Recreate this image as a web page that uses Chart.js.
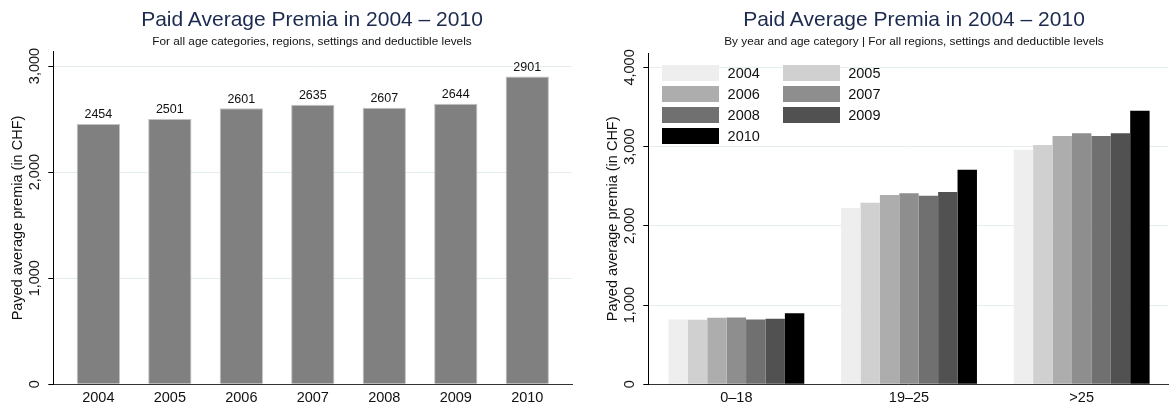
<!DOCTYPE html>
<html>
<head>
<meta charset="utf-8">
<script src="https://cdn.jsdelivr.net/npm/chart.js@4.4.1/dist/chart.umd.min.js"></script>
<style>
  body { margin: 0; background: #fff; font-family: 'Liberation Sans', Arial, sans-serif; }
  #wrap { position: relative; width: 1169px; height: 408px; overflow: hidden; }
  canvas { position: absolute; top: 0; }
  .titulo { position: absolute; text-align: center; color: #1b2a4e; font-size: 21px; line-height: 21px; white-space: nowrap; }
  .sub { position: absolute; text-align: center; color: #111; font-size: 11.8px; line-height: 12px; white-space: nowrap; }
  #legenda { position: absolute; left: 662px; top: 65px; display: grid; grid-template-columns: 120.6px 120px; row-gap: 5px; }
  .item { display: flex; align-items: center; height: 16px; }
  .caixa { width: 57px; height: 16px; margin-right: 8.6px; }
  .item span { font-size: 14.5px; color: #111; }
</style>
</head>
<body>
<div id="wrap">
  <canvas id="grafico-total" width="584" height="408" style="left:0"></canvas>
  <canvas id="grafico-idade" width="574" height="408" style="left:595px"></canvas>
  <div class="titulo" style="left:52px; width:520px; top:8px;">Paid Average Premia in 2004 – 2010</div>
  <div class="sub" style="left:52px; width:520px; top:35px;">For all age categories, regions, settings and deductible levels</div>
  <div class="titulo" style="left:654px; width:520px; top:8px;">Paid Average Premia in 2004 – 2010</div>
  <div class="sub" style="left:654px; width:520px; top:35px;">By year and age category | For all regions, settings and deductible levels</div>
  <div id="legenda"></div>
</div>
<script>
// Configurações globais
Chart.defaults.font.family = "'Liberation Sans', Arial, sans-serif";
Chart.defaults.color = '#111';

// Dados
const anos = ['2004', '2005', '2006', '2007', '2008', '2009', '2010'];
const premiaTotal = [2454, 2501, 2601, 2635, 2607, 2644, 2901];

const faixasEtarias = ['0–18', '19–25', '>25'];
const premia2004 = [818, 2224, 2962];
const premia2005 = [814, 2292, 3021];
const premia2006 = [839, 2390, 3135];
const premia2007 = [843, 2411, 3169];
const premia2008 = [818, 2381, 3135];
const premia2009 = [826, 2427, 3169];
const premia2010 = [898, 2708, 3453];
const premiaPorAno = [premia2004, premia2005, premia2006, premia2007, premia2008, premia2009, premia2010];

const ticksTotal = [0, 1000, 2000, 3000];
const ticksIdade = [0, 1000, 2000, 3000, 4000];

const tonsCinza = ['#eeeeee', '#d0d0d0', '#adadad', '#8e8e8e', '#707070', '#515151', '#000000'];

// Escalas comuns aos dois gráficos
function escalas(rotulos, xMin, xMax, yMax, yTicks) {
    return {
        x: {
            type: 'linear',
            min: xMin,
            max: xMax,
            offset: false,
            grid: { display: false, offset: false },
            border: { display: true, color: '#333', width: 1 },
            afterBuildTicks: s => { s.ticks = rotulos.map((_, i) => ({ value: i })); },
            afterFit: s => { s.height = 23.7; },
            ticks: {
                color: '#111', font: { size: 14.5 }, padding: -3,
                maxRotation: 0, autoSkip: false,
                callback: v => rotulos[v]
            }
        },
        y: {
            min: 0,
            max: yMax,
            afterBuildTicks: s => { s.ticks = yTicks.map(v => ({ value: v })); },
            afterFit: s => { s.width = 53.3; },
            grid: {
                color: c => (c.tick && c.tick.value === 0) ? 'rgba(0,0,0,0)' : '#e4edef',
                tickColor: '#000', tickLength: 5
            },
            border: { display: true, color: '#000', width: 1 },
            title: {
                display: true, text: 'Payed average premia (in CHF)', color: '#111',
                font: { size: 14.5 }, padding: { top: 9.3, bottom: 0 }
            },
            ticks: {
                color: '#111', font: { size: 14.5 },
                minRotation: 90, maxRotation: 90, crossAlign: 'center', padding: -5,
                callback: v => v.toLocaleString('en-US')
            }
        }
    };
}

// Rótulos com os valores acima das barras
const rotulosValores = {
    id: 'rotulosValores',
    afterDatasetsDraw(chart) {
        const ctx = chart.ctx;
        const meta = chart.getDatasetMeta(0);
        ctx.save();
        ctx.font = "12.5px 'Liberation Sans', Arial, sans-serif";
        ctx.fillStyle = '#111';
        ctx.textAlign = 'center';
        ctx.textBaseline = 'alphabetic';
        meta.data.forEach((bar, i) => ctx.fillText(String(premiaTotal[i]), bar.x, bar.y - 5.5));
        ctx.restore();
    }
};

// Gráfico da esquerda: total por ano
new Chart(document.getElementById('grafico-total'), {
    type: 'bar',
    data: {
        datasets: [{
            data: premiaTotal.map((v, i) => ({ x: i, y: v })),
            backgroundColor: '#808080',
            borderColor: '#c2c2c2',
            borderWidth: 1,
            borderSkipped: 'bottom',
            barPercentage: 0.606,
            categoryPercentage: 1
        }]
    },
    options: {
        responsive: false,
        animation: false,
        layout: { padding: { top: 51.7, left: 0, right: 11.7, bottom: 0 } },
        plugins: { legend: { display: false }, tooltip: { enabled: false } },
        scales: escalas(anos, -0.63, 6.63, 3135, ticksTotal)
    },
    plugins: [rotulosValores]
});

// Gráfico da direita: por ano e faixa etária
new Chart(document.getElementById('grafico-idade'), {
    type: 'bar',
    data: {
        datasets: premiaPorAno.map((serie, j) => ({
            label: anos[j],
            data: serie.map((v, i) => ({ x: i, y: v })),
            backgroundColor: tonsCinza[j],
            borderWidth: 0,
            barPercentage: 1,
            categoryPercentage: 0.787
        }))
    },
    options: {
        responsive: false,
        animation: false,
        layout: { padding: { top: 53.3, left: 0, right: 1, bottom: 0 } },
        plugins: { legend: { display: false }, tooltip: { enabled: false } },
        scales: escalas(faixasEtarias, -0.51, 2.5, 4178, ticksIdade)
    }
});

// Legenda em HTML, duas colunas
const legenda = document.getElementById('legenda');
anos.forEach((ano, j) => {
    const item = document.createElement('div');
    item.className = 'item';
    item.innerHTML = `<div class="caixa" style="background:${tonsCinza[j]}"></div><span>${ano}</span>`;
    legenda.appendChild(item);
});
</script>
</body>
</html>
